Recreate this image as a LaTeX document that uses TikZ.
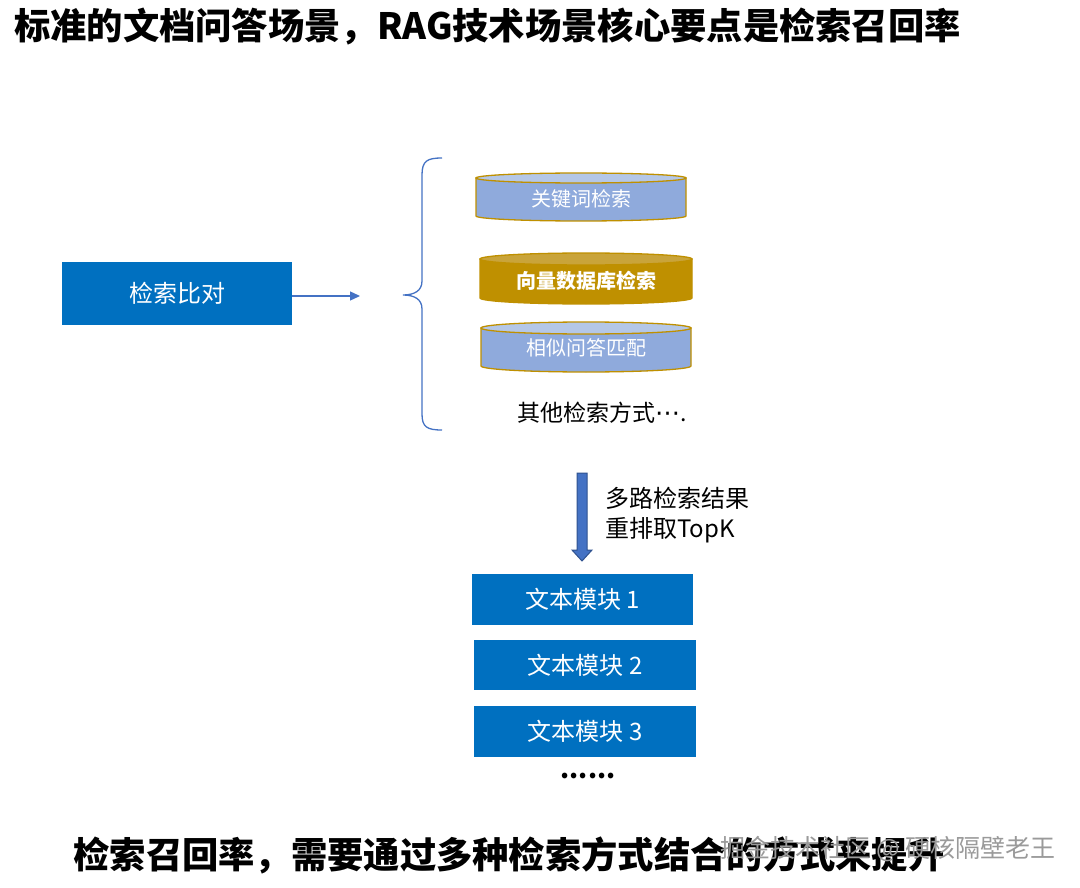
\documentclass[tikz,border=0pt]{standalone}
\usepackage{fontspec}
\setmainfont{Noto Sans CJK SC}
\newfontfamily\symfont{DejaVu Sans}
\usetikzlibrary{arrows.meta}
\definecolor{boxblue}{HTML}{0070C0}
\definecolor{lineblue}{HTML}{4472C4}
\definecolor{arrowborder}{HTML}{2F528F}
\definecolor{cylborder}{HTML}{BF9000}
\definecolor{cylbody}{HTML}{8FAADC}
\definecolor{cyltop}{HTML}{B4C7E7}
\definecolor{goldbody}{HTML}{BF9000}
\definecolor{goldtop}{HTML}{C9A43A}
\definecolor{wmgray}{HTML}{9A9A9A}
\newcommand\mycyl[7]{%
  \filldraw[fill=#6, draw=cylborder, line width=1.3pt] (#1,#3) -- (#1,#4)
    arc[start angle=180, end angle=0, x radius={(#2-#1)/2}, y radius=#5] -- (#2,#3) -- cycle;
  \filldraw[fill=#7, draw=cylborder, line width=1.3pt] ({(#1+#2)/2},#3) ellipse[x radius={(#2-#1)/2}, y radius=#5];
}
\begin{document}
\begin{tikzpicture}[x=1pt,y=-1pt,
  bluebox/.style={fill=boxblue, text=white, inner sep=0pt, font=\fontsize{24}{28}\selectfont},
  cyltext/.style={text=white, inner sep=0pt, font=\fontsize{20}{24}\selectfont},
  plain/.style={inner sep=0pt, font=\fontsize{23}{30}\selectfont, text=black}]
\useasboundingbox (0,0) rectangle (1080,888);
\fill[white] (0,0) rectangle (1080,888);

\node[anchor=west, inner sep=0pt, font=\fontsize{36.3}{40}\selectfont\bfseries] (title) at (14,27) {标准的文档问答场景，RAG技术场景核心要点是检索召回率};

\node[bluebox, minimum width=230pt, minimum height=63pt] (cmp) at (177,293.5) {检索比对};
\coordinate (bracetip) at (360,296);
\draw[lineblue, line width=1.3pt, -{Triangle[length=10pt,width=9pt]}] (cmp.east |- bracetip) -- (bracetip);

\draw[lineblue, line width=1.3pt] (442,158) .. controls (427,158) and (422,161) .. (422,175) -- (422,281)
  .. controls (422,291) and (414,295) .. (403,295) .. controls (414,295) and (422,299) .. (422,309)
  -- (422,414) .. controls (422,427) and (427,430) .. (442,430);

\mycyl{476}{686}{178}{216}{5}{cylbody}{cyltop}
\node[cyltext] (c1) at (581,199) {关键词检索};
\mycyl{480}{692}{259}{298}{6}{goldbody}{goldtop}
\node[cyltext, font=\fontsize{20}{24}\selectfont\bfseries] (c2) at (586,281) {向量数据库检索};
\mycyl{481}{691}{328}{366}{6}{cylbody}{cyltop}
\node[cyltext] (c3) at (586,348) {相似问答匹配};

\node[plain, anchor=west] (other) at (517,413) {其他检索方式{\symfont\fontsize{25}{24}\selectfont ⋯}.};

\filldraw[fill=lineblue, draw=arrowborder, line width=1pt] (577,473) -- (587,473) -- (587,550) -- (592,550) -- (582,561) -- (572,550) -- (577,550) -- cycle;
\node[plain, anchor=west, align=left, font=\fontsize{24}{30}\selectfont] (lbl) at (605,515) {多路检索结果\\重排取TopK};

\node[bluebox, minimum width=221pt, minimum height=51pt] (t1) at (582.5,599.5) {文本模块 1};
\node[bluebox, minimum width=222pt, minimum height=50pt] (t2) at (585,665) {文本模块 2};
\node[bluebox, minimum width=222pt, minimum height=51pt] (t3) at (585,731.5) {文本模块 3};
\node[plain, font=\fontsize{26}{30}\selectfont\bfseries] (dots) at (588,776) {......};

\node[inner sep=0pt, font=\fontsize{36.3}{40}\selectfont\bfseries] (bottom) at (509,855) {检索召回率，需要通过多种检索方式结合的方式来提升};
\node[inner sep=0pt, text=wmgray, font=\fontsize{25}{28}\selectfont] (wm) at (888,849) {掘金技术社区 @ 硬核隔壁老王};
\end{tikzpicture}
\end{document}
